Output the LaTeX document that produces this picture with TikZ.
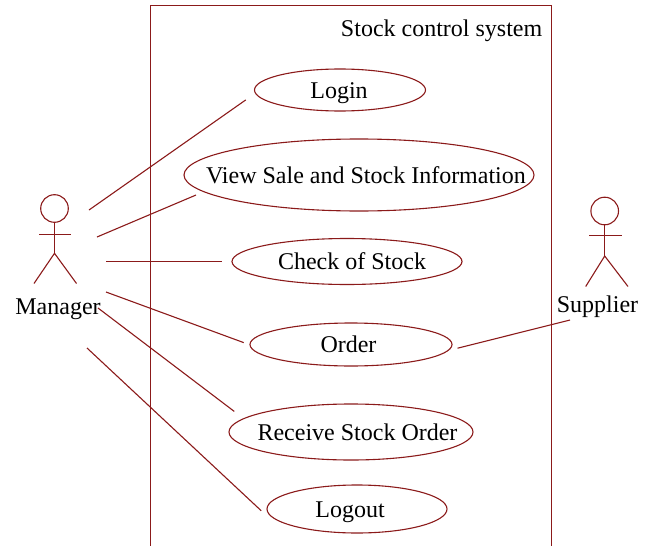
\documentclass[tikz,border=0pt]{standalone}
\usepackage{fontspec}
\setmainfont{Liberation Serif}
\usetikzlibrary{shapes.geometric}
\definecolor{umlred}{HTML}{8B1A1A}
\newcommand{\uctext}[2]{\makebox[0pt]{\hspace{#1}\raisebox{-8.4pt}[0pt][0pt]{#2}}}
\tikzset{
  uml/.style={draw=umlred,line width=1.1pt},
  usecase/.style n args={3}{ellipse,uml,inner sep=0pt,minimum width=#1,minimum height=#2,outer sep=#3,text=black},
  link/.style={uml},
  actorhead/.style={circle,uml,inner sep=0pt,minimum size=27.6pt,outer sep=0pt},
  label/.style={font=\fontsize{24}{28}\selectfont,text=black,inner sep=0pt,anchor=base}
}
\begin{document}
\begin{tikzpicture}[x=1pt,y=-1pt,font=\fontsize{24}{28}\selectfont]
\useasboundingbox (0,0) rectangle (651,546);
% system frame
\draw[uml] (150.5,546) -- (150.5,5.5) -- (551.5,5.5) -- (551.5,546);
\node[label,anchor=base east] (title) at (542.5,36) {Stock control system};
% use cases
\node[usecase={171pt}{42pt}{13pt}] (login) at (340,90) {\uctext{-2pt}{Login}};
\node[usecase={350pt}{72pt}{8pt}] (view) at (359,175) {\uctext{14pt}{View Sale and Stock Information}};
\node[usecase={230pt}{46pt}{10pt}] (check) at (347,261.5) {\uctext{10pt}{Check of Stock}};
\node[usecase={202pt}{43pt}{6.5pt}] (order) at (351,344.5) {\uctext{-5pt}{Order}};
\node[usecase={244pt}{56pt}{13pt}] (receive) at (351,432) {\uctext{13pt}{Receive Stock Order}};
\node[usecase={180pt}{48pt}{6pt}] (logout) at (357,509) {\uctext{-14pt}{Logout}};
% Manager actor
\node[actorhead] (mhead) at (54.5,208.5) {};
\coordinate (mhip) at (54.5,253.3);
\coordinate (marml) at (39,234.5);
\coordinate (marmr) at (71.3,234.5);
\coordinate (mlegl) at (34,283.5);
\coordinate (mlegr) at (76.5,283.5);
\draw[uml] (mhead) -- (mhip);
\draw[uml] (marml) -- (marmr);
\draw[uml] (mlegl) -- (mhip) -- (mlegr);
\node[label] (manager) at (58,314) {Manager};
% Supplier actor
\node[actorhead] (shead) at (604.7,211) {};
\coordinate (ship) at (604.7,256);
\coordinate (sarml) at (589.3,235.5);
\coordinate (sarmr) at (621.7,235.5);
\coordinate (slegl) at (585.7,286.5);
\coordinate (slegr) at (628,286.5);
\draw[uml] (shead) -- (ship);
\draw[uml] (sarml) -- (sarmr);
\draw[uml] (slegl) -- (ship) -- (slegr);
\node[label] (supplier) at (597.5,312) {Supplier};
% connector free ends by the actors
\coordinate (m1) at (89,210);
\coordinate (m2) at (97,237);
\coordinate (m3) at (106,261.5);
\coordinate (m4) at (106,292);
\coordinate (m5) at (98,308);
\coordinate (m6) at (87,348);
\coordinate (s1) at (570,320);
\draw[link] (m1) -- (login.186.7);
\draw[link] (m2) -- (view.187.5);
\draw[link] (m3) -- (check.180);
\draw[link] (m4) -- (order.179.2);
\draw[link] (m5) -- (receive.170.8);
\draw[link] (m6) -- (logout.181.2);
\draw[link] (s1) -- (order.358.7);
\end{tikzpicture}
\end{document}
